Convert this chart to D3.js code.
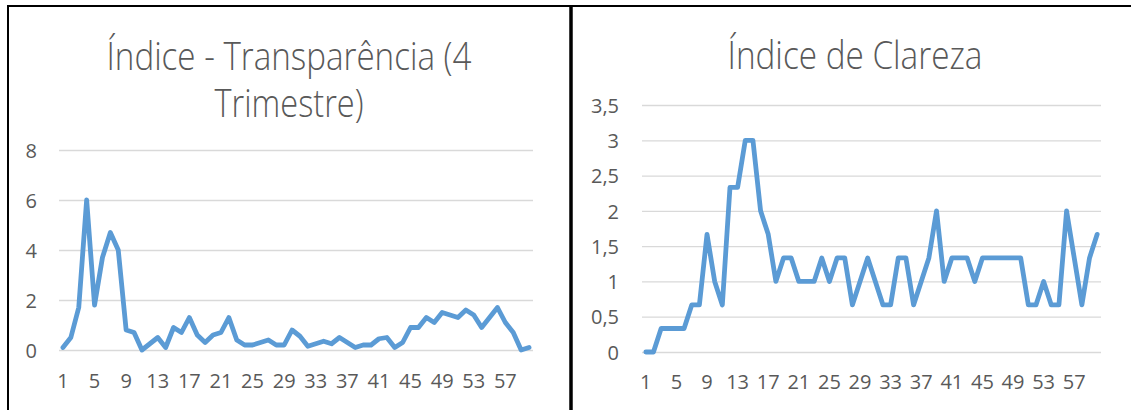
<!DOCTYPE html>
<html><head><meta charset="utf-8">
<script src="https://cdn.jsdelivr.net/npm/d3@7"></script>
<style>
html,body{margin:0;padding:0;background:#fff;}
svg{display:block;}
</style></head>
<body>
<script>
const categories = [1,2,3,4,5,6,7,8,9,10,11,12,13,14,15,16,17,18,19,20,21,22,23,24,25,26,27,28,29,30,31,32,33,34,35,36,37,38,39,40,41,42,43,44,45,46,47,48,49,50,51,52,53,54,55,56,57,58,59,60];
const xTickLabels = [1,5,9,13,17,21,25,29,33,37,41,45,49,53,57];

const transparenciaValues = [0.1,0.5,1.7,6.0,1.8,3.7,4.7,4.0,0.8,0.7,
  0.0,0.25,0.5,0.1,0.9,0.7,1.3,0.6,0.3,0.6,
  0.7,1.3,0.4,0.2,0.2,0.3,0.4,0.2,0.2,0.8,
  0.55,0.15,0.25,0.35,0.25,0.5,0.3,0.1,0.2,0.2,
  0.45,0.5,0.1,0.3,0.9,0.9,1.3,1.1,1.5,1.4,
  1.3,1.6,1.4,0.9,1.3,1.7,1.1,0.7,0.0,0.1];
const transparenciaTicks = [0,2,4,6,8];

const clarezaValues = [0,0,0.333,0.333,0.333,0.333,0.667,0.667,1.667,1,
  0.667,2.333,2.333,3,3,2,1.667,1,1.333,1.333,
  1,1,1,1.333,1,1.333,1.333,0.667,1,1.333,
  1,0.667,0.667,1.333,1.333,0.667,1,1.333,2,1,
  1.333,1.333,1.333,1,1.333,1.333,1.333,1.333,1.333,1.333,
  0.667,0.667,1,0.667,0.667,2,1.333,0.667,1.333,1.667];
const clarezaTicks = [0,0.5,1,1.5,2,2.5,3,3.5];

const W = 1131, H = 410;
const svg = d3.select("body").append("svg").attr("width", W).attr("height", H);

const textColor = "#595959";
const gridColor = "#d9d9d9";
const lineColor = "#5b9bd5";
const fontFam = "'Open Sans', 'Liberation Sans', sans-serif";

// frame
svg.append("line").attr("x1",7).attr("x2",W).attr("y1",6).attr("y2",6).attr("stroke","#000").attr("stroke-width",2);
svg.append("line").attr("x1",8).attr("x2",8).attr("y1",5).attr("y2",H).attr("stroke","#000").attr("stroke-width",2);
svg.append("line").attr("x1",571).attr("x2",571).attr("y1",5).attr("y2",H).attr("stroke","#000").attr("stroke-width",3.5);

function fmt(v){ return String(v).replace(".", ","); }

function drawChart(opt){
  const g = svg.append("g");
  const x = d3.scaleBand().domain(categories).range([opt.x0, opt.x1]);
  const y = d3.scaleLinear().domain([0, opt.ymax]).range([opt.y0, opt.y1]);

  const grid = g.append("g").attr("transform", `translate(${opt.x0},0)`)
    .call(d3.axisLeft(y).tickValues(opt.ticks).tickSize(-(opt.x1-opt.x0)).tickFormat(""));
  grid.select(".domain").remove();
  grid.selectAll(".tick line").attr("stroke", gridColor).attr("stroke-width", 1.3);

  const ya = g.append("g").attr("transform", `translate(${opt.ylabX},0)`)
    .call(d3.axisLeft(y).tickValues(opt.ticks).tickSize(0).tickPadding(0).tickFormat(fmt));
  ya.select(".domain").remove();
  ya.selectAll("text").attr("fill", textColor).style("font-family", fontFam).style("font-size","20px")
    .attr("dy","0.36em").attr("text-anchor","end");

  const xa = g.append("g").attr("transform", `translate(0,${opt.xlabY})`)
    .call(d3.axisBottom(x).tickValues(xTickLabels).tickSize(0).tickPadding(0));
  xa.select(".domain").remove();
  xa.selectAll("text").attr("fill", textColor).style("font-family", fontFam).style("font-size","20px")
    .attr("y",0).attr("dy","0");

  const line = d3.line().x((d,i)=>x(categories[i]) + x.bandwidth()/2).y(d=>y(d));
  g.append("path").datum(opt.values).attr("d", line).attr("fill","none")
    .attr("stroke", lineColor).attr("stroke-width", 4.8)
    .attr("stroke-linejoin","round").attr("stroke-linecap","round");

  const t = g.append("text").attr("text-anchor","middle").attr("fill", textColor)
    .style("font-family", fontFam).style("font-weight", 300).style("font-size","38px");
  opt.title.forEach((s,i)=>{
    t.append("tspan").attr("x", opt.tx).attr("y", opt.ty + i*47).text(s)
      .attr("textLength", opt.tw[i]).attr("lengthAdjust","spacingAndGlyphs");
  });
}

drawChart({x0:59, x1:533, y0:350, y1:150, ymax:8, ticks:transparenciaTicks, values:transparenciaValues,
  ylabX:37, xlabY:388, title:["Índice - Transparência (4","Trimestre)"], tx:289, ty:70, tw:[365,149]});

drawChart({x0:642, x1:1101, y0:352, y1:105, ymax:3.5, ticks:clarezaTicks, values:clarezaValues,
  ylabX:619, xlabY:389, title:["Índice de Clareza"], tx:855, ty:69, tw:[255]});
</script>
</body></html>
